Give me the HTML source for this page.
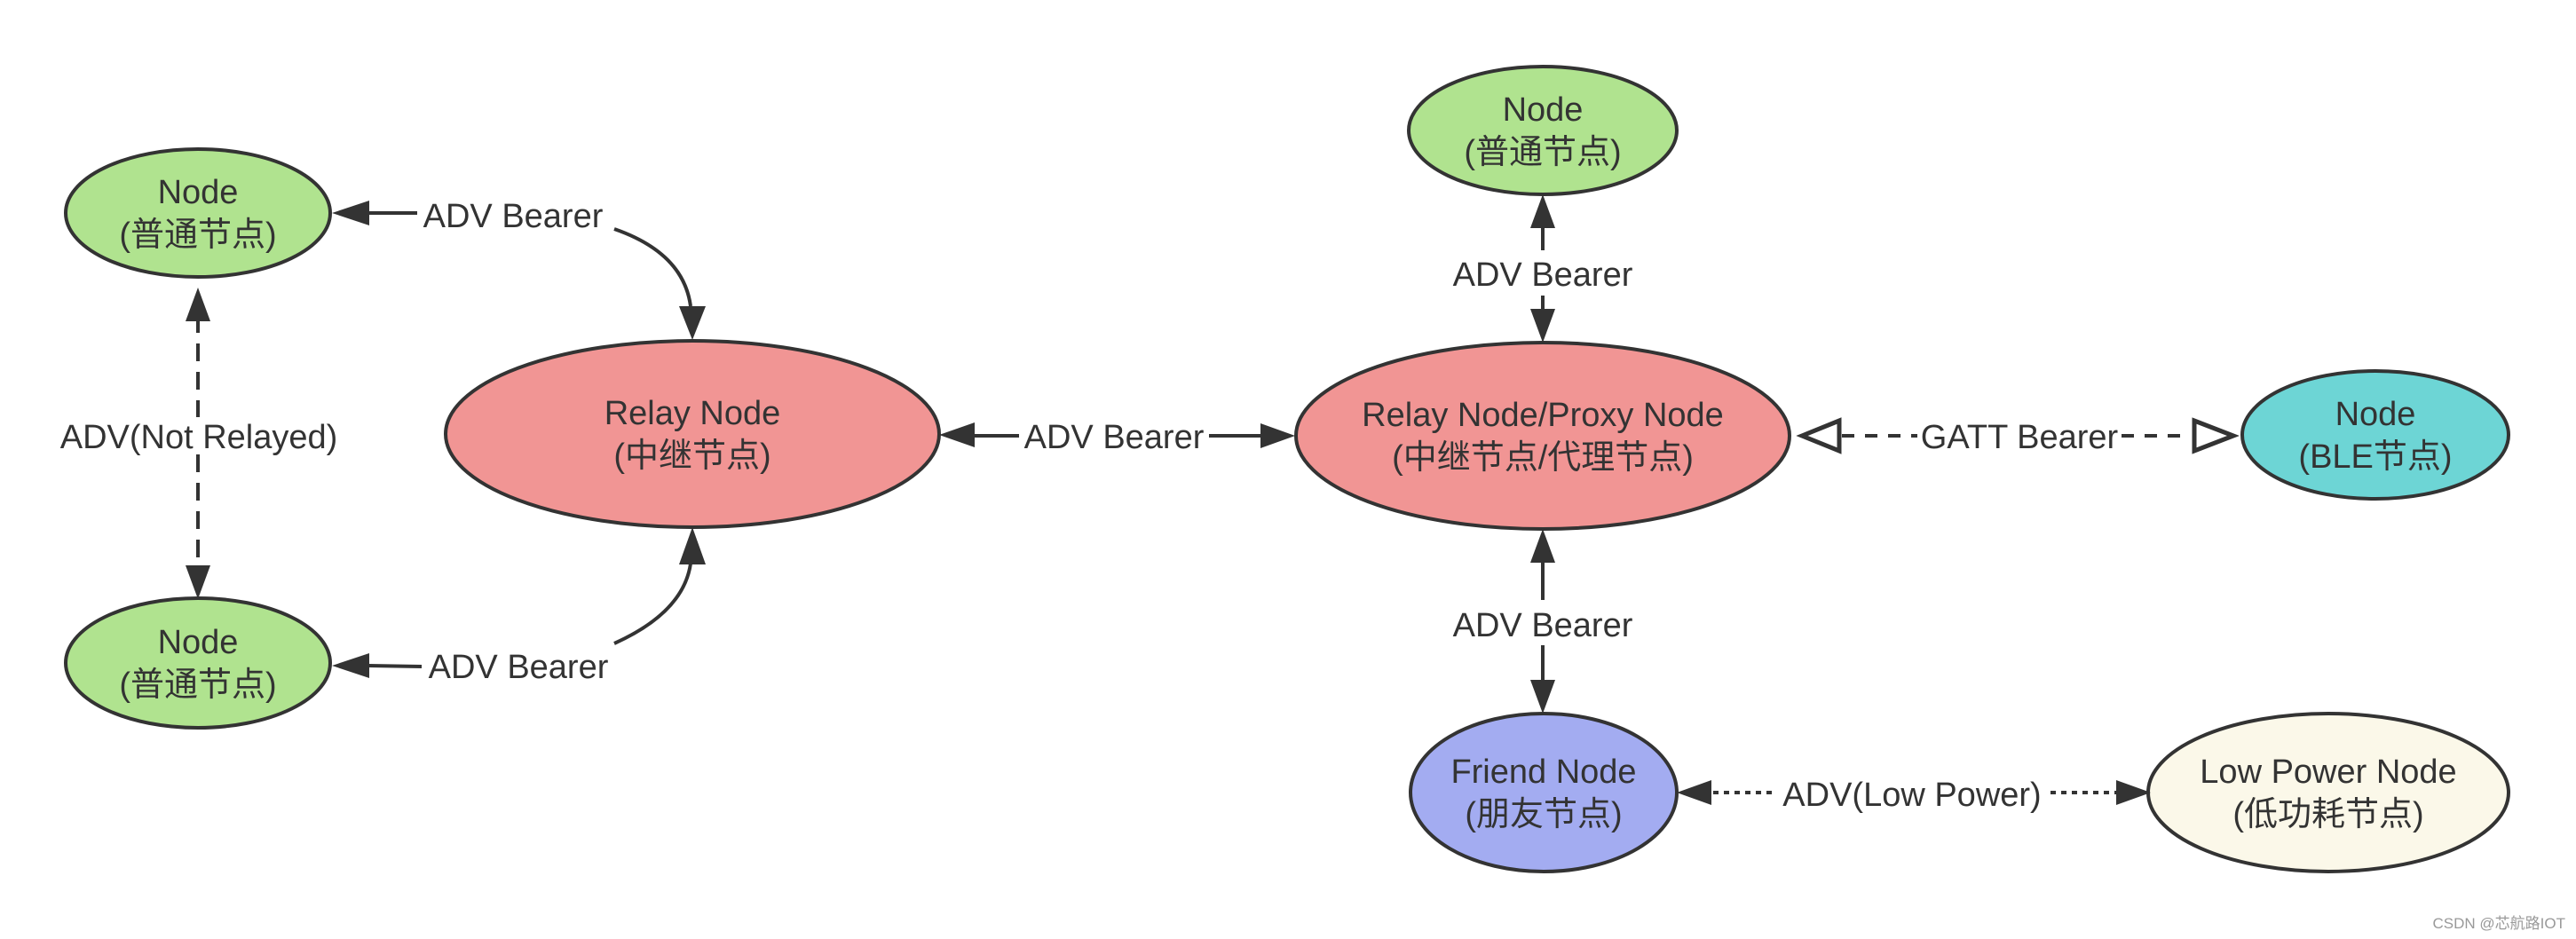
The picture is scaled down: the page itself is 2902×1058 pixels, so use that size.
<!DOCTYPE html>
<html><head><meta charset="utf-8"><style>
html,body{margin:0;padding:0;background:#fff;}
svg{display:block;}
text{font-family:"Liberation Sans","Noto Sans CJK SC",sans-serif;fill:#333;}
</style></head><body>
<svg width="2902" height="1058" viewBox="0 0 2902 1058" xmlns="http://www.w3.org/2000/svg">
<defs>
<marker id="f" viewBox="0 0 10 10" refX="10" refY="5" markerWidth="10" markerHeight="10" markerUnits="userSpaceOnUse" orient="auto-start-reverse">
<path d="M0,0 L10,5 L0,10 z" fill="#333"/></marker>
</defs>
<g stroke="#333" stroke-width="4">
<ellipse cx="223" cy="240" rx="149" ry="72" fill="#b0e38f"/>
<ellipse cx="223" cy="747" rx="149" ry="73" fill="#b0e38f"/>
<ellipse cx="780" cy="489" rx="278" ry="105" fill="#f19594"/>
<ellipse cx="1738" cy="147" rx="151" ry="72" fill="#b0e38f"/>
<ellipse cx="1738" cy="491" rx="278" ry="105" fill="#f19594"/>
<ellipse cx="2676" cy="490" rx="150" ry="72" fill="#6dd5d5"/>
<ellipse cx="1739" cy="893" rx="150" ry="89" fill="#a3acf1"/>
<ellipse cx="2623" cy="893" rx="203" ry="89" fill="#fbf8e9"/>
</g>
<g stroke="#333" stroke-width="4" fill="none">
<!-- top-left ADV bearer -->
<line x1="415" y1="240" x2="470" y2="240"/>
<path d="M692,258 Q770,285 778,345"/>
<!-- bottom-left -->
<line x1="415" y1="750" x2="475" y2="751"/>
<path d="M692,725 Q770,690 778,635"/>
<!-- not relayed dashed -->
<line x1="223" y1="355" x2="223" y2="470" stroke-dasharray="20,12"/>
<line x1="223" y1="512" x2="223" y2="640" stroke-dasharray="20,12"/>
<!-- relay-relay -->
<line x1="1095" y1="491" x2="1148" y2="491"/>
<line x1="1362" y1="491" x2="1425" y2="491"/>
<!-- vertical top -->
<line x1="1738" y1="255" x2="1738" y2="282"/>
<line x1="1738" y1="333" x2="1738" y2="350"/>
<!-- vertical bottom -->
<line x1="1738" y1="632" x2="1738" y2="676"/>
<line x1="1738" y1="727" x2="1738" y2="770"/>
<!-- GATT -->
<line x1="2075" y1="491" x2="2160" y2="491" stroke-dasharray="14,12"/>
<line x1="2390" y1="491" x2="2468" y2="491" stroke-dasharray="14,12"/>
<path d="M2072,474 L2030,491 L2072,508 Z" stroke-width="5"/>
<path d="M2472,474 L2516,491 L2472,508 Z" stroke-width="5"/>
<!-- low power dotted -->
<line x1="1930" y1="893" x2="1998" y2="893" stroke-dasharray="6,6"/>
<line x1="2310" y1="893" x2="2385" y2="893" stroke-dasharray="6,6"/>
</g>
<g fill="#333">
<path d="M374,240 L416,226 L416,254 Z"/>
<path d="M374,750 L416,736 L416,764 Z"/>
<path d="M780,383 L765,345 L795,345 Z"/>
<path d="M780,594 L765,636 L795,636 Z"/>
<path d="M223,324 L209,362 L237,362 Z"/>
<path d="M223,675 L209,637 L237,637 Z"/>
<path d="M1058,490 L1098,476 L1098,504 Z"/>
<path d="M1459,491 L1420,477 L1420,505 Z"/>
<path d="M1738,219 L1724,257 L1752,257 Z"/>
<path d="M1738,386 L1724,348 L1752,348 Z"/>
<path d="M1738,596 L1724,634 L1752,634 Z"/>
<path d="M1738,804 L1724,766 L1752,766 Z"/>
<path d="M1889,893 L1928,879 L1928,907 Z"/>
<path d="M2423,893 L2384,879 L2384,907 Z"/>
</g>
<g font-size="38" text-anchor="middle">
<text x="223" y="229">Node</text><text x="223" y="277">(普通节点)</text>
<text x="223" y="736">Node</text><text x="223" y="784">(普通节点)</text>
<text x="780" y="478">Relay Node</text><text x="780" y="526">(中继节点)</text>
<text x="1738" y="136">Node</text><text x="1738" y="184">(普通节点)</text>
<text x="1738" y="480">Relay Node/Proxy Node</text><text x="1738" y="528">(中继节点/代理节点)</text>
<text x="2676" y="479">Node</text><text x="2676" y="527">(BLE节点)</text>
<text x="1739" y="882">Friend Node</text><text x="1739" y="930">(朋友节点)</text>
<text x="2623" y="882">Low Power Node</text><text x="2623" y="930">(低功耗节点)</text>
<text x="578" y="256">ADV Bearer</text>
<text x="584" y="764">ADV Bearer</text>
<text x="224" y="505">ADV(Not Relayed)</text>
<text x="1255" y="505">ADV Bearer</text>
<text x="1738" y="322">ADV Bearer</text>
<text x="1738" y="717">ADV Bearer</text>
<text x="2275" y="505">GATT Bearer</text>
<text x="2154" y="908">ADV(Low Power)</text>
</g>
<text x="2890" y="1046" font-size="17" text-anchor="end" style="fill:#999">CSDN @芯航路IOT</text>
</svg>
</body></html>
